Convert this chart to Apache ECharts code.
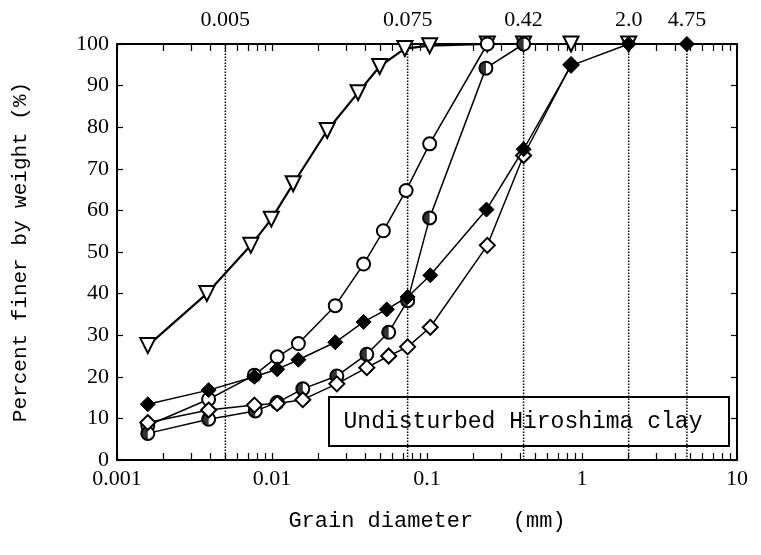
<!DOCTYPE html>
<html>
<head>
<meta charset="utf-8">
<script src="https://cdn.jsdelivr.net/npm/echarts@6/dist/echarts.min.js"></script>
<style>html,body{margin:0;padding:0;background:#fff;}#c{width:761px;height:555px;}</style>
</head>
<body>
<div id="c"></div>
<script>
// ---- data (grain diameter mm, percent finer %) ----
const triangleOpen = [[0.00158,27.5],[0.0038,40.0],[0.0073,51.6],[0.0099,57.9],[0.0137,66.4],[0.0227,79.2],[0.0359,88.3],[0.0495,94.6],[0.072,98.9],[0.104,99.6],[0.245,100],[0.42,100],[0.85,100],[2.0,100]];
const circleOpen = [[0.00158,8.3],[0.0039,14.6],[0.0077,20.4],[0.0108,24.8],[0.0148,28.0],[0.0256,37.1],[0.039,47.1],[0.0523,55.1],[0.0733,64.8],[0.104,76.0],[0.245,100]];
const circleHalf = [[0.00158,6.4],[0.0039,9.8],[0.0078,11.8],[0.0108,13.8],[0.0158,17.1],[0.0262,20.2],[0.0409,25.4],[0.0566,30.7],[0.075,38.3],[0.104,58.2],[0.24,94.2],[0.42,100]];
const diamondOpen = [[0.00158,9.0],[0.0039,12.0],[0.0077,13.2],[0.0108,13.6],[0.0158,14.5],[0.0262,18.3],[0.0409,22.2],[0.0566,25.0],[0.075,27.2],[0.105,31.9],[0.245,51.6],[0.42,73.2],[0.85,95.0]];
const diamondFilled = [[0.00158,13.4],[0.0039,16.8],[0.0077,20.0],[0.0108,21.8],[0.0148,24.1],[0.0256,28.3],[0.039,33.2],[0.055,36.2],[0.075,39.2],[0.105,44.4],[0.242,60.2],[0.42,74.7],[0.85,94.8],[2.0,100],[4.75,100]];
const sieveSizes = [0.005, 0.075, 0.42, 2.0, 4.75];
const sieveLabels = ['0.005', '0.075', '0.42', '2.0', '4.75'];
const yRange = [0, 100];
const xTickValues = [0.001, 0.01, 0.1, 1, 10];
const xTickLabels = ['0.001', '0.01', '0.1', '1', '10'];
const xMinorTicks = [0.002,0.003,0.004,0.005,0.006,0.007,0.008,0.009,0.02,0.03,0.04,0.05,0.06,0.07,0.08,0.09,0.2,0.3,0.4,0.5,0.6,0.7,0.8,0.9,2,3,4,5,6,7,8,9];
const boxText = 'Undisturbed Hiroshima clay';
const xTitle = 'Grain diameter   (mm)';
const yTitle = 'Percent finer by weight (%)';

const serif = 'Liberation Serif';
const mono = 'Liberation Mono';
const allTicks = xTickValues.concat(xMinorTicks);

function xLabel(v) {
  const e = Math.round(Math.log10(v));
  for (let i = 0; i < xTickValues.length; i++) {
    if (Math.round(Math.log10(xTickValues[i])) === e) return xTickLabels[i];
  }
  return '';
}

const chart = echarts.init(document.getElementById('c'), null, {renderer: 'canvas'});
const lineStyle = {color: '#000', width: 1.5};
const openItem = {color: '#fff', borderColor: '#000', borderWidth: 2};

const sieveSeries = sieveSizes.map((v, i) => ({
  type: 'line', data: [[v, yRange[0]], [v, yRange[1]]],
  symbol: 'circle', symbolSize: 1, showSymbol: true, silent: true, z: 1, clip: false,
  itemStyle: {color: 'rgba(0,0,0,0)', borderWidth: 0},
  lineStyle: {color: '#000', width: 1.5, type: 'dotted'},
  label: {show: true, position: 'top', distance: 12, color: '#000', fontFamily: serif, fontSize: 22,
    formatter: p => (p.dataIndex === 1 ? sieveLabels[i] : '')}
}));

chart.setOption({
  animation: false,
  backgroundColor: '#fff',
  grid: {left: 117, right: 24, top: 44, bottom: 95},
  xAxis: [{
    type: 'log', logBase: 10, min: 0.001, max: 10, position: 'bottom',
    axisLine: {show: true, onZero: false, lineStyle: {color: '#000', width: 2}},
    axisTick: {show: true, inside: true, length: 7, customValues: allTicks, lineStyle: {color: '#000', width: 1.2}},
    axisLabel: {show: true, customValues: xTickValues, formatter: xLabel, color: '#000', fontFamily: serif, fontSize: 22, margin: 8},
    splitLine: {show: false},
    name: xTitle, nameLocation: 'middle', nameGap: 50,
    nameTextStyle: {color: '#000', fontFamily: mono, fontSize: 22}
  }, {
    type: 'log', logBase: 10, min: 0.001, max: 10, position: 'top',
    axisLine: {show: true, onZero: false, lineStyle: {color: '#000', width: 2}},
    axisTick: {show: true, inside: true, length: 7, customValues: allTicks, lineStyle: {color: '#000', width: 1.2}},
    axisLabel: {show: false},
    splitLine: {show: false}
  }],
  yAxis: [{
    type: 'value', min: 0, max: 100, interval: 10, position: 'left',
    axisLine: {show: true, onZero: false, lineStyle: {color: '#000', width: 2}},
    axisTick: {show: true, inside: true, length: 6, lineStyle: {color: '#000', width: 1.2}},
    axisLabel: {color: '#000', fontFamily: serif, fontSize: 22, margin: 8},
    splitLine: {show: false},
    name: yTitle, nameLocation: 'middle', nameGap: 86, nameRotate: 90,
    nameTextStyle: {color: '#000', fontFamily: mono, fontSize: 21}
  }, {
    type: 'value', min: 0, max: 100, interval: 10, position: 'right',
    axisLine: {show: true, onZero: false, lineStyle: {color: '#000', width: 2}},
    axisTick: {show: true, inside: true, length: 6, lineStyle: {color: '#000', width: 1.2}},
    axisLabel: {show: false},
    splitLine: {show: false}
  }],
  series: sieveSeries.concat([
    {type: 'line', data: triangleOpen, symbol: 'triangle', symbolRotate: 180, symbolSize: 15,
      lineStyle: {color: '#000', width: 2.2}, itemStyle: openItem, z: 3},
    {type: 'line', data: circleOpen, symbol: 'circle', symbolSize: 13, lineStyle: lineStyle, itemStyle: openItem, z: 4},
    {type: 'line', data: circleHalf, symbol: 'circle', symbolSize: 13, lineStyle: lineStyle, itemStyle: openItem, z: 5},
    {type: 'scatter', data: circleHalf, symbol: 'path://M10,0 A10,10 0 0 0 10,20 Z', symbolSize: [6.5, 13], symbolOffset: [-3.25, 0],
      itemStyle: {color: '#000'}, z: 6},
    {type: 'line', data: diamondOpen, symbol: 'diamond', symbolSize: 15, lineStyle: lineStyle, itemStyle: openItem, z: 7},
    {type: 'line', data: diamondFilled, symbol: 'diamond', symbolSize: 15, lineStyle: lineStyle, itemStyle: {color: '#000', borderColor: '#000', borderWidth: 1}, z: 8}
  ]),
  graphic: [{
    type: 'group', left: 328, top: 396, z: 100,
    children: [
      {type: 'rect', shape: {x: 0, y: 0, width: 400, height: 49}, style: {fill: '#fff', stroke: '#000', lineWidth: 2}},
      {type: 'text', x: 194, y: 25, style: {text: boxText, fill: '#000', font: '23px "Liberation Mono"', align: 'center', verticalAlign: 'middle'}}
    ]
  }]
});
</script>
</body>
</html>
